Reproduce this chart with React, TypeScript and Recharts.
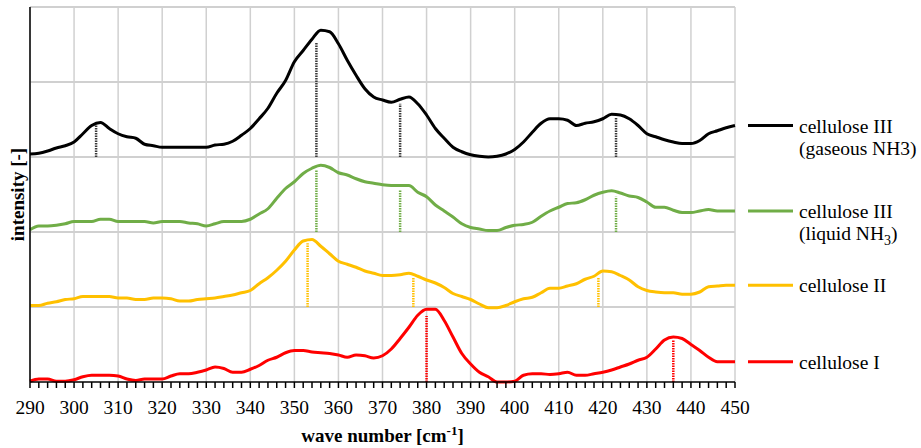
import { LineChart, Line, XAxis, YAxis, CartesianGrid, Label, ReferenceLine } from "recharts";

const waveNumbers = [
  290, 292, 294, 296, 298, 300, 302, 304, 306, 308, 310, 312, 314, 316, 318, 320, 322, 324, 326, 328,
  330, 332, 334, 336, 338, 340, 342, 344, 346, 348, 350, 352, 354, 356, 358, 360, 362, 364, 366, 368,
  370, 372, 374, 376, 378, 380, 382, 384, 386, 388, 390, 392, 394, 396, 398, 400, 402, 404, 406, 408,
  410, 412, 414, 416, 418, 420, 422, 424, 426, 428, 430, 432, 434, 436, 438, 440, 442, 444, 446, 448, 450,
];
const majorTicks = [290, 300, 310, 320, 330, 340, 350, 360, 370, 380, 390, 400, 410, 420, 430, 440, 450];
const yTicks = [0, 1, 2, 3, 4, 5];
const yGrid = [1, 2, 3, 4, 5];

// cellulose III (gaseous NH3), offset +3
const gaseous = [
  3.04, 3.05, 3.08, 3.12, 3.15, 3.20, 3.31, 3.42, 3.46, 3.38, 3.31, 3.27, 3.25, 3.17, 3.15, 3.13, 3.13, 3.13, 3.13, 3.13,
  3.13, 3.16, 3.17, 3.21, 3.29, 3.38, 3.51, 3.65, 3.85, 4.02, 4.27, 4.42, 4.57, 4.69, 4.67, 4.51, 4.29, 4.09, 3.91, 3.80,
  3.76, 3.73, 3.77, 3.80, 3.71, 3.56, 3.38, 3.25, 3.13, 3.07, 3.03, 3.01, 3.00, 3.01, 3.04, 3.10, 3.20, 3.33, 3.45, 3.51,
  3.51, 3.49, 3.42, 3.45, 3.47, 3.51, 3.57, 3.56, 3.51, 3.42, 3.31, 3.27, 3.23, 3.20, 3.18, 3.18, 3.22, 3.31, 3.35, 3.39, 3.42,
];
// cellulose III (liquid NH3), offset +2
const liquid = [
  2.03, 2.08, 2.08, 2.09, 2.11, 2.14, 2.14, 2.14, 2.17, 2.17, 2.14, 2.14, 2.14, 2.14, 2.12, 2.14, 2.14, 2.14, 2.12, 2.11,
  2.08, 2.11, 2.14, 2.14, 2.14, 2.17, 2.24, 2.31, 2.45, 2.58, 2.67, 2.78, 2.85, 2.89, 2.86, 2.79, 2.76, 2.71, 2.67, 2.65,
  2.63, 2.62, 2.62, 2.62, 2.53, 2.47, 2.36, 2.28, 2.20, 2.11, 2.06, 2.04, 2.02, 2.02, 2.06, 2.09, 2.10, 2.13, 2.21, 2.28,
  2.33, 2.38, 2.39, 2.43, 2.49, 2.53, 2.55, 2.52, 2.48, 2.46, 2.40, 2.33, 2.33, 2.29, 2.26, 2.26, 2.28, 2.30, 2.28, 2.28, 2.28,
];
// cellulose II, offset +1
const cell2 = [
  1.02, 1.02, 1.05, 1.07, 1.10, 1.11, 1.14, 1.14, 1.14, 1.14, 1.12, 1.12, 1.10, 1.10, 1.12, 1.12, 1.11, 1.08, 1.08, 1.10,
  1.11, 1.12, 1.14, 1.16, 1.19, 1.22, 1.31, 1.39, 1.49, 1.61, 1.76, 1.88, 1.90, 1.81, 1.71, 1.61, 1.57, 1.53, 1.48, 1.45,
  1.42, 1.42, 1.43, 1.45, 1.41, 1.36, 1.32, 1.26, 1.18, 1.14, 1.10, 1.04, 0.99, 0.99, 1.02, 1.07, 1.11, 1.13, 1.19, 1.25,
  1.25, 1.28, 1.31, 1.37, 1.41, 1.48, 1.47, 1.42, 1.36, 1.27, 1.22, 1.20, 1.19, 1.19, 1.17, 1.17, 1.20, 1.27, 1.28, 1.29, 1.29,
];
// cellulose I
const cell1 = [
  0.01, 0.04, 0.04, 0.01, 0.01, 0.03, 0.07, 0.09, 0.09, 0.09, 0.08, 0.04, 0.02, 0.04, 0.04, 0.04, 0.08, 0.11, 0.11, 0.13,
  0.16, 0.20, 0.18, 0.13, 0.13, 0.17, 0.22, 0.29, 0.33, 0.39, 0.42, 0.42, 0.40, 0.39, 0.38, 0.36, 0.33, 0.36, 0.35, 0.32,
  0.35, 0.44, 0.58, 0.73, 0.89, 0.97, 0.97, 0.82, 0.60, 0.38, 0.24, 0.13, 0.07, 0.00, 0.00, 0.01, 0.09, 0.11, 0.11, 0.10,
  0.11, 0.13, 0.09, 0.09, 0.11, 0.13, 0.16, 0.20, 0.24, 0.29, 0.33, 0.44, 0.56, 0.60, 0.58, 0.50, 0.42, 0.33, 0.27, 0.27, 0.27,
];

// peak markers: position, top of marker; base is the series offset
const gaseousPeaks = [305, 355, 374, 423];
const gaseousPeakTops = [3.42, 4.53, 3.71, 3.53];
const liquidPeaks = [355, 374, 423];
const liquidPeakTops = [2.82, 2.56, 2.47];
const cell2Peaks = [353, 377, 419];
const cell2PeakTops = [1.85, 1.39, 1.39];
const cell1Peaks = [380, 436];
const cell1PeakTops = [0.88, 0.56];

const data = waveNumbers.map((x, i) => ({
  x,
  gaseous: gaseous[i],
  liquid: liquid[i],
  cell2: cell2[i],
  cell1: cell1[i],
}));

const FONT = '"Liberation Serif", "Times New Roman", serif';
const GRID = "#d0d0d0";

const series = [
  { key: "gaseous", color: "#000000", peakColor: "#3a3a3a", base: 3, peaks: gaseousPeaks, tops: gaseousPeakTops, lines: ["cellulose III", "(gaseous NH3)"] },
  { key: "liquid", color: "#70AD47", peakColor: "#70AD47", base: 2, peaks: liquidPeaks, tops: liquidPeakTops, lines: ["cellulose III", "(liquid NH|3|)"] },
  { key: "cell2", color: "#FFC000", peakColor: "#FFC000", base: 1, peaks: cell2Peaks, tops: cell2PeakTops, lines: ["cellulose II"] },
  { key: "cell1", color: "#FF0000", peakColor: "#FF0000", base: 0, peaks: cell1Peaks, tops: cell1PeakTops, lines: ["cellulose I"] },
];

function renderLine(text: string) {
  // "a|3|b" -> subscript 3
  const parts = text.split("|");
  if (parts.length === 1) return text;
  return [
    <tspan key="a">{parts[0]}</tspan>,
    <tspan key="b" dy={5} fontSize={14}>{parts[1]}</tspan>,
    <tspan key="c" dy={-5}>{parts[2]}</tspan>,
  ];
}

const endLegend = (color: string, lines: string[]) => (p: any) => {
  const k = "d" + p.index;
  if (p.payload.x !== waveNumbers[waveNumbers.length - 1]) return <g key={k} />;
  const { cx, cy } = p;
  return (
    <g key={k}>
      <line x1={cx + 13} x2={cx + 58} y1={cy} y2={cy} stroke={color} strokeWidth={3} />
      {lines.map((t, i) => (
        <text key={i} x={cx + 64} y={cy + 7 + i * 22} fontFamily={FONT} fontSize={19.5} fill="#000">
          {renderLine(t)}
        </text>
      ))}
    </g>
  );
};

const XTick = (p: any) => {
  const v = p.payload.value;
  if (!majorTicks.includes(v)) return <g />;
  return (
    <text x={p.x} y={p.y + 24} textAnchor="middle" fontFamily={FONT} fontSize={19.5} fill="#000">
      {v}
    </text>
  );
};

export default function App() {
  return (
    <div style={{ width: 921, height: 448, fontFamily: FONT }}>
      <style>{`body{margin:0}`}</style>
      <LineChart width={921} height={448} data={data} margin={{ top: 7, right: 186, bottom: 0, left: 0 }}>
        <CartesianGrid stroke={GRID} strokeWidth={1.5} horizontalValues={yGrid} verticalValues={majorTicks} />
        {yGrid.map((v) => (
          <ReferenceLine key={"hg" + v} y={v} stroke={GRID} strokeWidth={2} shapeRendering="crispEdges" />
        ))}
        <XAxis
          dataKey="x"
          type="number"
          domain={[290, 450]}
          ticks={waveNumbers}
          interval={0}
          height={66}
          tickSize={6}
          axisLine={{ stroke: "#000", strokeWidth: 1.5 }}
          tickLine={{ stroke: "#000", strokeWidth: 1.5 }}
          tick={XTick}
        >
          <Label
            content={(p: any) => {
              const vb = p.viewBox;
              return (
                <text x={vb.x + vb.width / 2} y={vb.y + 60} textAnchor="middle" fontFamily={FONT} fontSize={19} fontWeight="bold" fill="#000">
                  wave number [cm<tspan dy={-7} fontSize={13}>-1</tspan><tspan dy={7}>]</tspan>
                </text>
              );
            }}
          />
        </XAxis>
        <YAxis
          type="number"
          domain={[0, 5]}
          ticks={yTicks}
          width={30}
          tickFormatter={() => ""}
          tickLine={false}
          axisLine={{ stroke: "#000", strokeWidth: 1.5 }}
        >
          <Label
            content={(p: any) => {
              const vb = p.viewBox;
              const cy = vb.y + vb.height / 2;
              return (
                <text x={24} y={cy} transform={`rotate(-90 24 ${cy})`} textAnchor="middle" fontFamily={FONT} fontSize={19} fontWeight="bold" fill="#000">
                  intensity [-]
                </text>
              );
            }}
          />
        </YAxis>
        {series.flatMap((s) =>
          s.peaks.map((px, i) => (
            <Line
              key={s.key + "-peak-" + px}
              data={[{ x: px, v: s.base }, { x: px, v: s.tops[i] }]}
              dataKey="v"
              type="linear"
              stroke={s.peakColor}
              strokeWidth={2.5}
              strokeDasharray="1.5 1"
              dot={false}
              activeDot={false}
              legendType="none"
              isAnimationActive={false}
            />
          ))
        )}
        {series.map((s) => (
          <Line
            key={s.key}
            dataKey={s.key}
            type="monotone"
            stroke={s.color}
            strokeWidth={3}
            dot={endLegend(s.color, s.lines)}
            activeDot={false}
            isAnimationActive={false}
          />
        ))}
      </LineChart>
    </div>
  );
}
